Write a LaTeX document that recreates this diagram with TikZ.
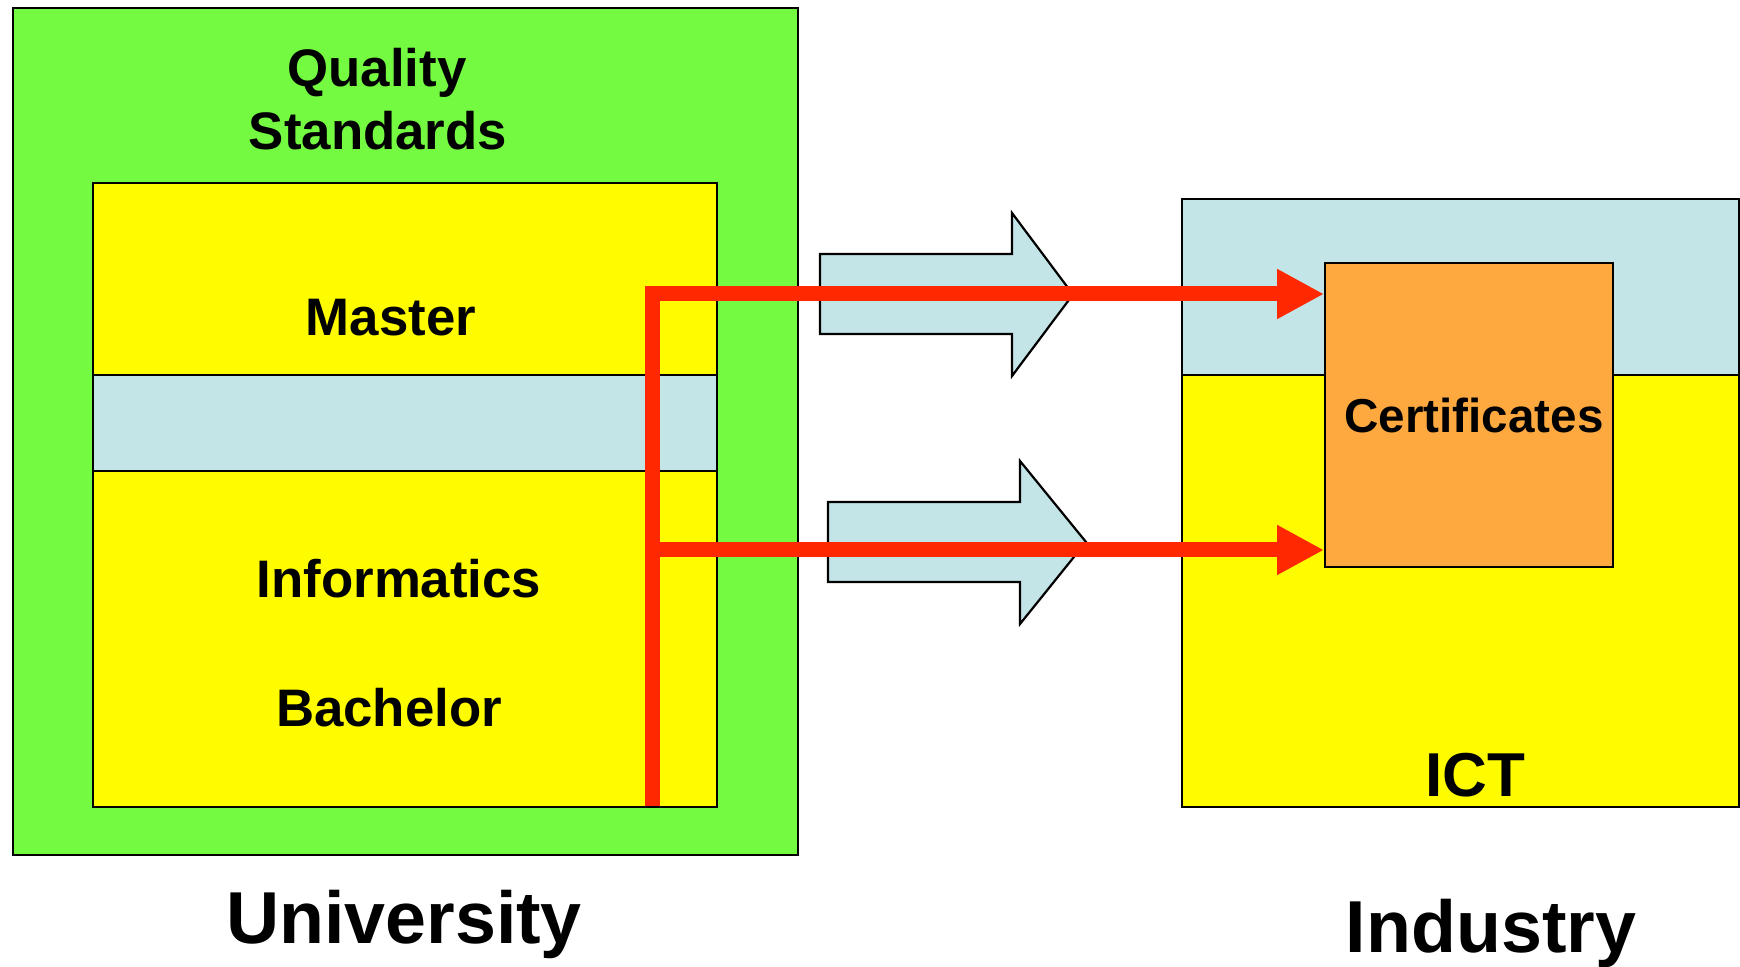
\documentclass[tikz,border=0pt]{standalone}
\usepackage{fontspec}
\setmainfont{Liberation Sans}
\usetikzlibrary{arrows.meta}
\definecolor{grn}{RGB}{117,250,66}
\definecolor{yel}{RGB}{255,252,0}
\definecolor{lblue}{RGB}{196,229,231}
\definecolor{org}{RGB}{253,169,64}
\definecolor{rd}{RGB}{255,40,0}
\tikzset{
  box/.style={draw=black, line width=1.1pt, inner sep=0pt, anchor=north west},
  blockarrow/.style={draw=black, line width=1.1pt, fill=lblue, line join=miter},
  lbl/.style={anchor=base, inner sep=0pt, font=\bfseries\fontsize{26.4}{30}\selectfont},
  biglbl/.style={anchor=base, inner sep=0pt, font=\bfseries\fontsize{36.8}{40}\selectfont},
  redline/.style={draw=rd, line width=7.5pt, line join=miter},
  redtip/.style={-{Triangle[length=23.5pt,width=23.5pt]}}
}
\begin{document}
\begin{tikzpicture}[x=0.5pt,y=-0.5pt]
\useasboundingbox[fill=white] (0,0) rectangle (1740,967);
% University side
\node[box, fill=grn, minimum width=392.5pt, minimum height=423.5pt] (univ) at (12,7) {};
\node[box, fill=yel, minimum width=312pt, minimum height=312pt] (inner) at (92,182) {};
\node[box, fill=lblue, minimum width=312pt, minimum height=48pt] (band) at (92,374) {};
% Industry side
\node[box, fill=lblue, minimum width=278.5pt, minimum height=88pt] (indtop) at (1181,198) {};
\node[box, fill=yel, minimum width=278.5pt, minimum height=216pt] (indbot) at (1181,374) {};
% block arrows
\draw[blockarrow] (820,254) -- (1012,254) -- (1012,213) -- (1073,294.5) -- (1012,376) -- (1012,334) -- (820,334) -- cycle;
\draw[blockarrow] (828,502) -- (1020,502) -- (1020,461) -- (1086,542) -- (1020,624) -- (1020,582) -- (828,582) -- cycle;
% certificates box
\node[box, fill=org, minimum width=144pt, minimum height=152pt] (cert) at (1324,262) {};
% labels
\node[lbl] (quality) at (377,87) {Quality};
\node[lbl] (standards) at (378,150) {Standards};
\node[lbl] (master) at (391,336) {Master};
\node[lbl] (informatics) at (399,598) {Informatics};
\node[lbl] (bachelor) at (389,726) {Bachelor};
\node[anchor=base, inner sep=0pt, font=\bfseries\fontsize{23.8}{27}\selectfont] (certlbl) at (1474,433) {Certificates};
\node[anchor=base, inner sep=0pt, font=\bfseries\fontsize{31}{35}\selectfont] (ict) at (1475,796) {ICT};
\node[biglbl] (university) at (404,943) {University};
\node[biglbl] (industry) at (1491,952) {Industry};
% red flow lines
\coordinate (vbot) at (652,806);
\coordinate (vmid) at (652,550);
\coordinate (t1) at (cert.west |- 0,294);
\coordinate (t2) at (cert.west |- 0,550);
\draw[redline, redtip] (vbot) |- (t1);
\draw[redline, redtip] (vmid) -- (t2);
\end{tikzpicture}
\end{document}
